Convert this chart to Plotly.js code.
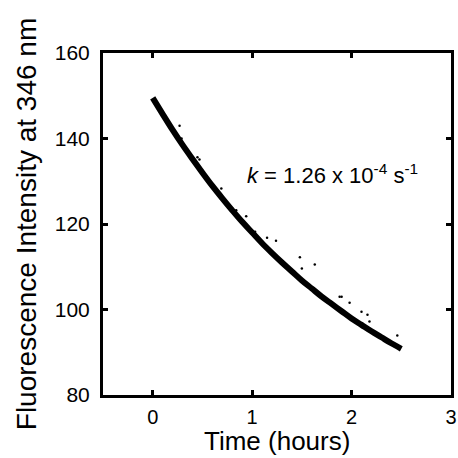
<!DOCTYPE html>
<html>
<head>
<meta charset="utf-8">
<script src="https://cdn.plot.ly/plotly-3.0.1.min.js"></script>
<style>html,body{margin:0;padding:0;background:#fff}#chart{width:458px;height:458px}</style>
</head>
<body>
<div id="chart"></div>
<script>
// Band centre of the decay trace
var timeHours = [0, 0.1, 0.2, 0.3, 0.4, 0.5, 0.6, 0.7, 0.8, 0.9, 1.0, 1.1, 1.2, 1.3, 1.4, 1.5, 1.6, 1.7, 1.8, 1.9, 2.0, 2.1, 2.2, 2.3, 2.4, 2.5];
var intensity = [149.5, 145.7, 142.0, 138.5, 135.2, 132.0, 128.9, 126.0, 123.2, 120.5, 118.0, 115.5, 113.2, 111.0, 108.9, 106.8, 104.9, 103.0, 101.3, 99.6, 97.9, 96.4, 94.9, 93.5, 92.1, 90.8];
// Scattered outlying points
var outlierTime = [0.27, 0.29, 0.33, 0.45, 0.47, 0.69, 0.80, 0.84, 0.94, 1.03, 1.15, 1.24, 1.48, 1.63, 1.50, 1.88, 1.90, 1.98, 2.10, 2.16, 2.18, 2.46];
var outlierValue = [143.0, 140.0, 137.7, 135.6, 135.1, 128.3, 123.6, 123.2, 121.8, 118.2, 116.8, 116.1, 112.2, 110.5, 109.6, 103.0, 103.0, 101.6, 99.5, 98.8, 97.2, 93.9];
var xTicks = [0, 1, 2, 3];
var yTicks = [80, 100, 120, 140, 160];

var font = "Arial, 'Liberation Sans', sans-serif";
var traces = [
  {x: timeHours, y: intensity, mode: 'lines', line: {color: '#000', width: 6, shape: 'spline'}, hoverinfo: 'skip'},
  {x: outlierTime, y: outlierValue, mode: 'markers', marker: {color: '#000', size: 2.5}, hoverinfo: 'skip'}
];
var axisCommon = {
  showline: true, mirror: 'ticks', linecolor: '#000', linewidth: 3,
  ticks: 'inside', ticklen: 5, tickwidth: 3, tickcolor: '#000',
  showgrid: false, zeroline: false,
  tickfont: {family: font, size: 21, color: '#000'}
};
var layout = {
  width: 458, height: 458,
  margin: {l: 103, r: 7, t: 53, b: 63},
  paper_bgcolor: '#fff', plot_bgcolor: '#fff',
  showlegend: false,
  xaxis: Object.assign({}, axisCommon, {
    range: [-0.5, 3], tickvals: xTicks, ticklabelstandoff: 2, tickfont: {family: font, size: 20, color: '#000'}
  }),
  yaxis: Object.assign({}, axisCommon, {
    range: [80, 160], tickvals: yTicks, ticklabelstandoff: 6,
    title: {text: 'Fluorescence Intensity at 346 nm', font: {family: font, size: 28, color: '#000'}, standoff: 10}
  }),
  annotations: [{
    x: 1.81, y: 131.8, xref: 'x', yref: 'y', showarrow: false,
    text: '<i>k</i> = 1.26 x 10<sup>-4</sup> s<sup>-1</sup>',
    font: {family: font, size: 22, color: '#000'}
  }, {
    x: 0.5, y: -0.1345, xref: 'paper', yref: 'paper', showarrow: false,
    xanchor: 'center', yanchor: 'middle', borderpad: 0,
    text: 'Time (hours)',
    font: {family: font, size: 26, color: '#000'}
  }]
};
Plotly.newPlot('chart', traces, layout, {displayModeBar: false, staticPlot: true});
</script>
</body>
</html>
